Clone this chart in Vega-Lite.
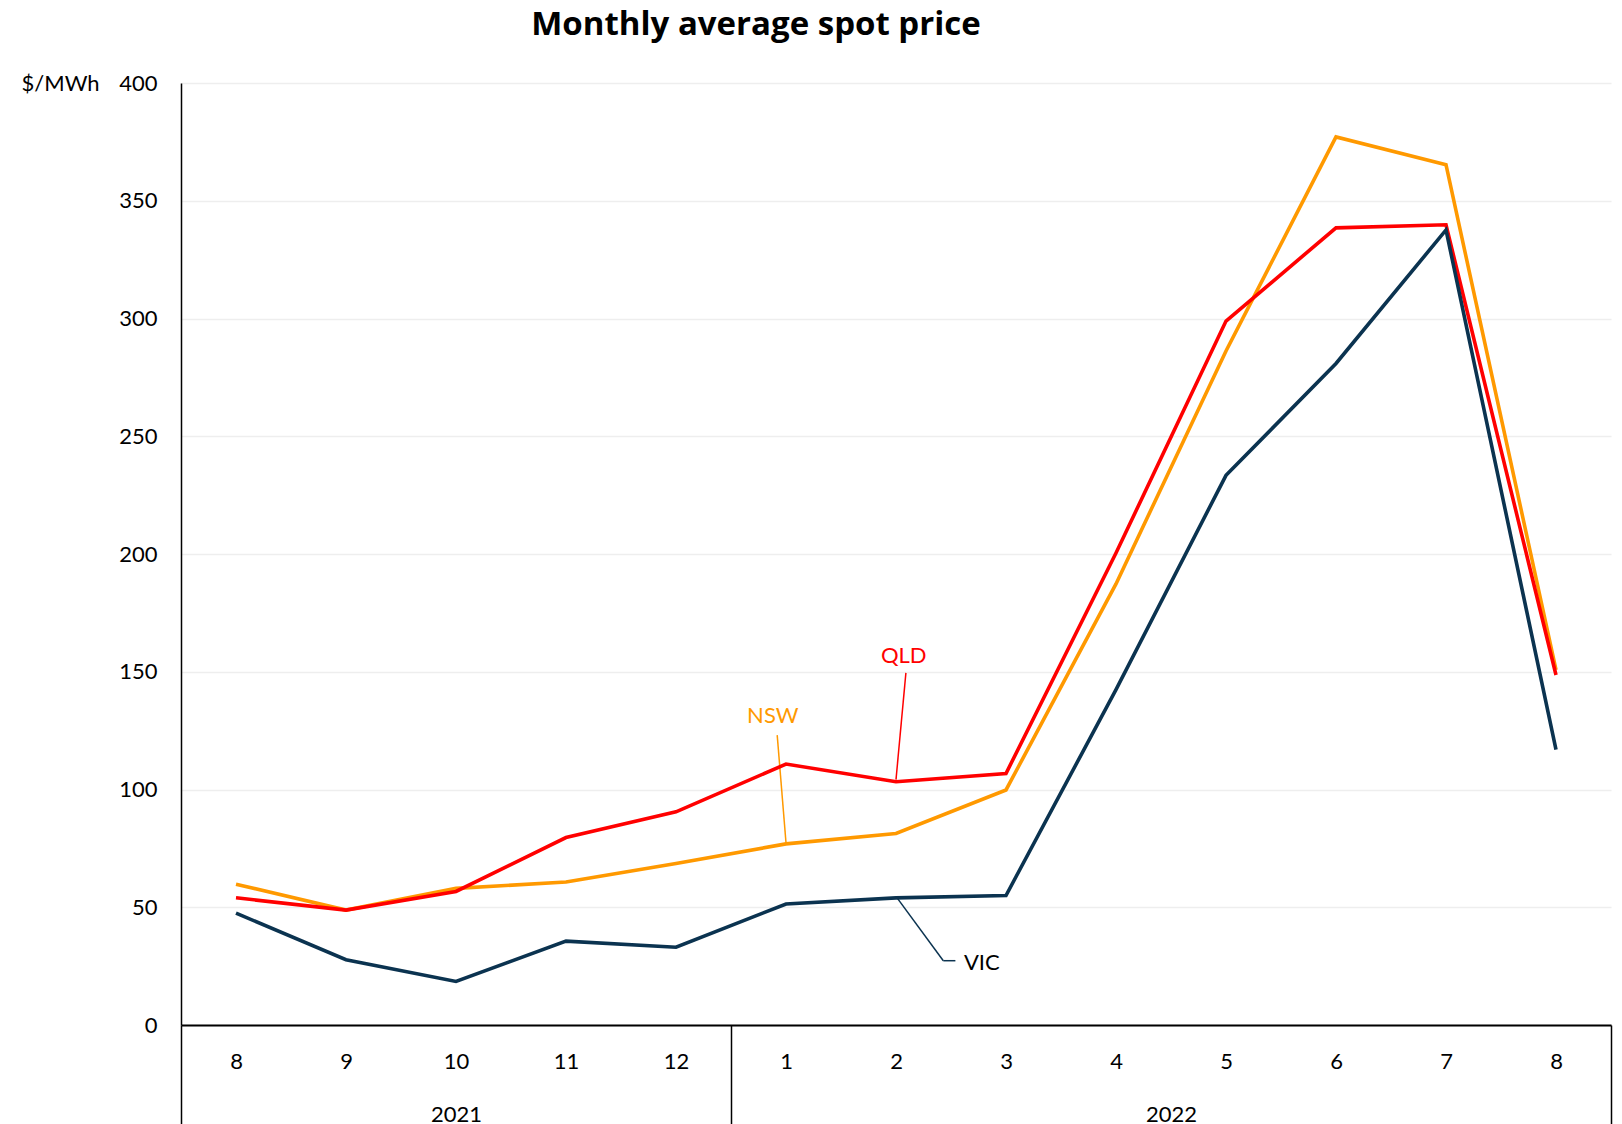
{
  "$schema": "https://vega.github.io/schema/vega-lite/v6.json",
  "width": 1430,
  "height": 942,
  "autosize": {"type": "none"},
  "padding": {"left": 181, "top": 83, "right": 11, "bottom": 99},
  "background": "white",
  "title": {"text": "Monthly average spot price", "font": "Open Sans", "fontSize": 33, "fontWeight": "bold", "color": "black", "anchor": "middle", "dx": -140, "baseline": "alphabetic", "offset": 4},
  "config": {
    "view": {"stroke": null},
    "font": "Lato",
    "axisY": {"domainColor": "black", "domainWidth": 1.5, "ticks": false, "gridColor": "#eeeeee", "gridWidth": 1.5, "labelFontSize": 22, "labelColor": "black", "labelPadding": 24, "titleAngle": 0, "titleAlign": "left", "titleBaseline": "middle", "titleX": -160, "titleY": 0, "titleFontSize": 22, "titleFontWeight": "normal", "titleColor": "black", "labelFont": "Lato", "titleFont": "Lato"}
  },
  "datasets": {
    "prices": [
      {"i": 0, "year": 2021, "month": "8", "series": "NSW", "value": 59.8},
      {"i": 1, "year": 2021, "month": "9", "series": "NSW", "value": 48.8},
      {"i": 2, "year": 2021, "month": "10", "series": "NSW", "value": 58.0},
      {"i": 3, "year": 2021, "month": "11", "series": "NSW", "value": 60.7},
      {"i": 4, "year": 2021, "month": "12", "series": "NSW", "value": 68.6},
      {"i": 5, "year": 2022, "month": "1", "series": "NSW", "value": 76.9},
      {"i": 6, "year": 2022, "month": "2", "series": "NSW", "value": 81.3},
      {"i": 7, "year": 2022, "month": "3", "series": "NSW", "value": 99.8},
      {"i": 8, "year": 2022, "month": "4", "series": "NSW", "value": 187.3},
      {"i": 9, "year": 2022, "month": "5", "series": "NSW", "value": 286.2},
      {"i": 10, "year": 2022, "month": "6", "series": "NSW", "value": 377.1},
      {"i": 11, "year": 2022, "month": "7", "series": "NSW", "value": 365.3},
      {"i": 12, "year": 2022, "month": "8", "series": "NSW", "value": 150.8},
      {"i": 0, "year": 2021, "month": "8", "series": "QLD", "value": 54.0},
      {"i": 1, "year": 2021, "month": "9", "series": "QLD", "value": 48.8},
      {"i": 2, "year": 2021, "month": "10", "series": "QLD", "value": 56.7},
      {"i": 3, "year": 2021, "month": "11", "series": "QLD", "value": 79.6},
      {"i": 4, "year": 2021, "month": "12", "series": "QLD", "value": 90.5},
      {"i": 5, "year": 2022, "month": "1", "series": "QLD", "value": 110.8},
      {"i": 6, "year": 2022, "month": "2", "series": "QLD", "value": 103.3},
      {"i": 7, "year": 2022, "month": "3", "series": "QLD", "value": 106.8},
      {"i": 8, "year": 2022, "month": "4", "series": "QLD", "value": 200.4},
      {"i": 9, "year": 2022, "month": "5", "series": "QLD", "value": 298.9},
      {"i": 10, "year": 2022, "month": "6", "series": "QLD", "value": 338.5},
      {"i": 11, "year": 2022, "month": "7", "series": "QLD", "value": 339.8},
      {"i": 12, "year": 2022, "month": "8", "series": "QLD", "value": 148.6},
      {"i": 0, "year": 2021, "month": "8", "series": "VIC", "value": 47.5},
      {"i": 1, "year": 2021, "month": "9", "series": "VIC", "value": 27.7},
      {"i": 2, "year": 2021, "month": "10", "series": "VIC", "value": 18.5},
      {"i": 3, "year": 2021, "month": "11", "series": "VIC", "value": 35.6},
      {"i": 4, "year": 2021, "month": "12", "series": "VIC", "value": 33.0},
      {"i": 5, "year": 2022, "month": "1", "series": "VIC", "value": 51.4},
      {"i": 6, "year": 2022, "month": "2", "series": "VIC", "value": 54.0},
      {"i": 7, "year": 2022, "month": "3", "series": "VIC", "value": 55.0},
      {"i": 8, "year": 2022, "month": "4", "series": "VIC", "value": 142.4},
      {"i": 9, "year": 2022, "month": "5", "series": "VIC", "value": 233.4},
      {"i": 10, "year": 2022, "month": "6", "series": "VIC", "value": 280.9},
      {"i": 11, "year": 2022, "month": "7", "series": "VIC", "value": 337.6},
      {"i": 12, "year": 2022, "month": "8", "series": "VIC", "value": 116.9}
    ],
    "leaders": [
      {"series": "QLD", "i": 6.09, "i2": 6.0, "value": 149.5, "value2": 104.2},
      {"series": "NSW", "i": 4.92, "i2": 5.0, "value": 123.1, "value2": 77.4},
      {"series": "VIC", "i": 6.01, "i2": 6.43, "value": 54.0, "value2": 27.3},
      {"series": "VIC", "i": 6.43, "i2": 6.54, "value": 27.3, "value2": 27.3}
    ],
    "labels": [
      {"series": "QLD", "i": 6.07, "value": 156.9},
      {"series": "NSW", "i": 4.88, "value": 131.2},
      {"series": "VIC", "i": 6.78, "value": 26.4}
    ]
  },
  "resolve": {"axis": {"x": "independent"}},
  "layer": [
    {
      "data": {"name": "leaders"},
      "mark": {"type": "rule", "strokeWidth": 1.5},
      "encoding": {
        "x": {"field": "i", "type": "quantitative", "scale": {"domain": [-0.5, 12.5], "nice": false, "zero": false}, "axis": null},
        "x2": {"field": "i2"},
        "y": {"field": "value", "type": "quantitative", "title": "$/MWh"},
        "y2": {"field": "value2"},
        "color": {"field": "series", "type": "nominal", "legend": null}
      }
    },
    {
      "data": {"name": "prices"},
      "mark": {"type": "line", "strokeWidth": 3.6},
      "encoding": {
        "x": {"field": "i", "type": "quantitative", "scale": {"domain": [-0.5, 12.5], "nice": false, "zero": false},
          "axis": {"orient": "bottom", "values": [0,1,2,3,4,5,6,7,8,9,10,11,12], "labelExpr": "['8','9','10','11','12','1','2','3','4','5','6','7','8'][datum.value]", "ticks": false, "grid": false, "domain": true, "domainColor": "black", "domainWidth": 2, "labelPadding": 36, "labelBaseline": "middle", "labelFontSize": 22, "labelColor": "black", "labelFont": "Lato", "title": null}},
        "y": {"field": "value", "type": "quantitative", "title": "$/MWh", "scale": {"domain": [0, 400], "nice": false},
          "axis": {"values": [0, 50, 100, 150, 200, 250, 300, 350, 400], "grid": true}},
        "color": {"field": "series", "type": "nominal", "legend": null,
          "scale": {"domain": ["NSW", "QLD", "VIC"], "range": ["#FF9900", "#FF0000", "#0B3350"]}}
      }
    },
    {
      "data": {"name": "labels"},
      "mark": {"type": "text", "fontSize": 22, "align": "center", "baseline": "middle", "font": "Lato"},
      "encoding": {
        "x": {"field": "i", "type": "quantitative", "scale": {"domain": [-0.5, 12.5], "nice": false, "zero": false},
          "axis": {"orient": "bottom", "values": [-0.5, 2, 4.5, 8.5, 12.5], "labelExpr": "datum.value == 2 ? '2021' : (datum.value == 8.5 ? '2022' : '')", "ticks": true, "tickSize": 99, "tickColor": "black", "tickWidth": 1.5, "tickOpacity": {"condition": {"test": "datum.value == 2 || datum.value == 8.5", "value": 0}, "value": 1}, "domain": false, "grid": false, "labelPadding": -10, "labelBaseline": "middle", "labelFontSize": 22, "labelColor": "black", "labelFont": "Lato", "title": null}},
        "y": {"field": "value", "type": "quantitative", "title": "$/MWh"},
        "text": {"field": "series"},
        "color": {"condition": {"test": "datum.series === 'VIC'", "value": "black"}, "field": "series", "type": "nominal", "legend": null}
      }
    }
  ]
}
